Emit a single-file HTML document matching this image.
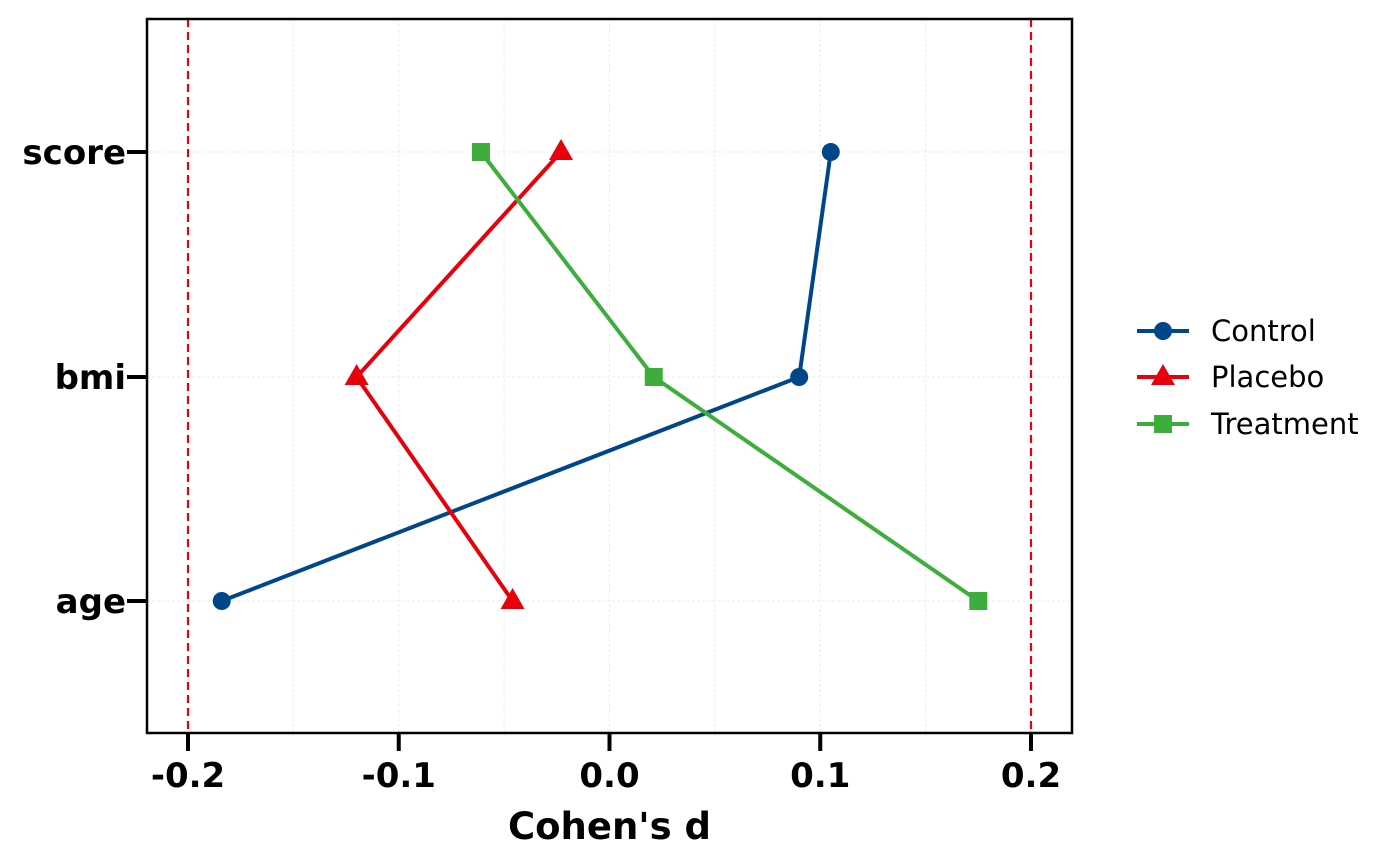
<!DOCTYPE html>
<html><head><meta charset="utf-8"><style>body{margin:0;background:#fff}svg{display:block}text{font-family:"DejaVu Sans","Liberation Sans",sans-serif}</style></head>
<body>
<svg id="chart" width="1400" height="866" viewBox="0 0 1400 866" xmlns="http://www.w3.org/2000/svg">
<g id="grid"></g><g id="refs"></g><g id="series"></g><g id="axes"></g><g id="legend"></g>
</svg>
<script>
const categories = ["age","bmi","score"];
const seriesNames = ["Control","Placebo","Treatment"];
const controlValues = [-0.184, 0.090, 0.105];
const placeboValues = [-0.046, -0.120, -0.023];
const treatmentValues = [0.175, 0.021, -0.061];
const xTicks = [-0.2,-0.1,0.0,0.1,0.2];
const xTickLabels = ["-0.2","-0.1","0.0","0.1","0.2"];
const refLines = [-0.2, 0.2];

const NS="http://www.w3.org/2000/svg";
const L=147,R=1072,T=19,B=733;
const x=v=>609.5+v*2107.5;
const yPos={age:601,bmi:377,score:152};
const y=c=>yPos[c];
function mk(tag,attrs,parent){const e=document.createElementNS(NS,tag);for(const k in attrs)e.setAttribute(k,attrs[k]);parent.appendChild(e);return e;}
const grid=document.getElementById('grid'),refs=document.getElementById('refs'),ser=document.getElementById('series'),axes=document.getElementById('axes'),leg=document.getElementById('legend');

for(let v=-0.2;v<=0.2001;v+=0.05){const g=mk('line',{x1:x(v),x2:x(v),y1:T,y2:B,stroke:'#ebebeb','stroke-width':1,'stroke-dasharray':'3,2'},grid);

}
categories.forEach(c=>{const g=mk('line',{x1:L,x2:R,y1:y(c),y2:y(c),stroke:'#ebebeb','stroke-width':1,'stroke-dasharray':'3,2'},grid);

});
refLines.forEach(v=>{const r=mk('line',{x1:x(v),x2:x(v),y1:T,y2:B,stroke:'#e8000b','stroke-width':2.2,'stroke-dasharray':'8,5'},refs);

});

const colors=["#00468b","#e8000b","#3dae3c"];
const shapes=["circle","triangle","square"];
const vals=[controlValues,placeboValues,treatmentValues];
function marker(shape,cx,cy,col,parent){
 let m;
 if(shape==="circle") m=mk('circle',{cx,cy,r:9,fill:col},parent);
 else if(shape==="triangle") m=mk('polygon',{points:`${cx},${cy-13} ${cx+12},${cy+8} ${cx-12},${cy+8}`,fill:col},parent);
 else m=mk('rect',{x:cx-9,y:cy-9,width:18,height:18,fill:col},parent);
 return m;
}
vals.forEach((arr,i)=>{
 const g=mk('g',{},ser);
 
 
 const pts=arr.map((v,j)=>x(v)+','+y(categories[j])).join(' ');
 const pl=mk('polyline',{points:pts,fill:'none',stroke:colors[i],'stroke-width':4},g);
 
 
 arr.forEach((v,j)=>{const m=marker(shapes[i],x(v),y(categories[j]),colors[i],g);
 
 });
});

const frame=mk('rect',{x:L,y:T,width:R-L,height:B-T,fill:'none',stroke:'#000','stroke-width':2.5},axes);


xTicks.forEach((v,i)=>{
 const t=mk('line',{x1:x(v),x2:x(v),y1:B,y2:B+18,stroke:'#000','stroke-width':4},axes);
 
 
 const tx=mk('text',{x:x(v),y:787,'text-anchor':'middle','font-size':34,'font-weight':'bold'},axes);
 tx.textContent=xTickLabels[i];
 
 
});
categories.forEach(c=>{
 const t=mk('line',{x1:L-20,x2:L,y1:y(c),y2:y(c),stroke:'#000','stroke-width':4},axes);
 
 
 const tx=mk('text',{x:L-21,y:y(c)+12,'text-anchor':'end','font-size':34,'font-weight':'bold'},axes);
 tx.textContent=c;
 
 
});
const xt=mk('text',{x:609.5,y:839,'text-anchor':'middle','font-size':37,'font-weight':'bold'},axes);
xt.textContent="Cohen's d";



const ly=[331,377,424];
seriesNames.forEach((n,i)=>{
 const g=mk('g',{},leg);
 
 
 mk('line',{x1:1137,x2:1189,y1:ly[i],y2:ly[i],stroke:colors[i],'stroke-width':4},g);
 marker(shapes[i],1163,ly[i],colors[i],g);
 const t=mk('text',{x:1211,y:ly[i]+10,'font-size':29},g);
 t.textContent=n;
});
</script>
</body></html>
